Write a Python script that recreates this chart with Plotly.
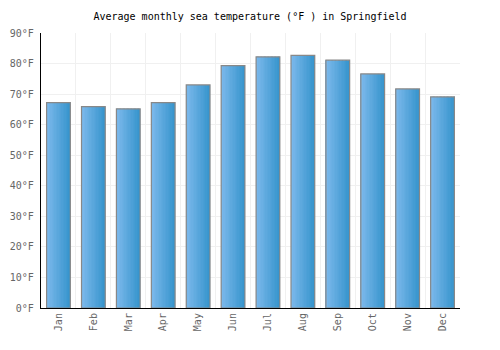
import plotly.graph_objects as go

months = ["Jan", "Feb", "Mar", "Apr", "May", "Jun", "Jul", "Aug", "Sep", "Oct", "Nov", "Dec"]
sea_temp_f = [67.2, 65.9, 65.2, 67.2, 73.0, 79.3, 82.2, 82.7, 81.1, 76.6, 71.7, 69.1]
y_ticks = [0, 10, 20, 30, 40, 50, 60, 70, 80, 90]
y_tick_labels = [f"{v}°F" for v in y_ticks]

FONT = "DejaVu Sans Mono"
bar_w = 0.68
n_strips = 17
c0 = (0x7c, 0xb9, 0xec)
c1 = (0x38, 0x95, 0xcd)

fig = go.Figure()
for i in range(n_strips):
    t = i / (n_strips - 1)
    col = "rgb(%d,%d,%d)" % tuple(round(a + (b - a) * t) for a, b in zip(c0, c1))
    sw = bar_w / n_strips
    fig.add_trace(go.Bar(
        x=months, y=sea_temp_f,
        width=sw * 1.05, offset=-bar_w / 2 + i * sw,
        marker=dict(color=col, line=dict(width=0)),
        hoverinfo="skip", showlegend=False,
    ))
fig.add_trace(go.Bar(
    x=months, y=sea_temp_f, width=bar_w, offset=-bar_w / 2,
    marker=dict(color="rgba(0,0,0,0)", line=dict(color="#888888", width=1.2)),
    showlegend=False,
))

fig.update_layout(
    width=500, height=350,
    margin=dict(l=41, r=40, t=33, b=42),
    paper_bgcolor="white", plot_bgcolor="white",
    barmode="overlay",
    title=dict(text="Average monthly sea temperature (°F ) in Springfield",
               x=0.5, xanchor="center", y=0.952, yanchor="middle",
               font=dict(family=FONT, size=10, color="#000")),
    font=dict(family=FONT, size=10, color="#666"),
)
fig.update_xaxes(
    type="category", tickson="boundaries", tickangle=-90,
    showgrid=True, gridcolor="#f0f0f0", gridwidth=1,
    showline=True, linecolor="#000", linewidth=1.2,
    ticks="", automargin=False,
    tickfont=dict(family=FONT, size=10, color="#666"),
    range=[-0.5, 11.5],
)
fig.update_yaxes(
    range=[0, 90], tickmode="array", tickvals=y_ticks, ticktext=y_tick_labels,
    showgrid=True, gridcolor="#f0f0f0", gridwidth=1, zeroline=False,
    showline=True, linecolor="#000", linewidth=1.2,
    ticks="outside", ticklen=4, tickcolor="rgba(0,0,0,0)", automargin=False,
    tickfont=dict(family=FONT, size=10, color="#666"),
)
fig.write_html("out.html")
